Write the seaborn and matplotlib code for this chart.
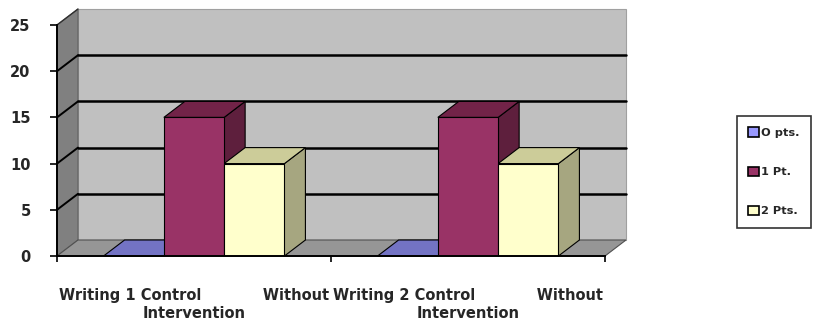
import matplotlib
matplotlib.use("Agg")
import matplotlib.pyplot as plt
import seaborn as sns
import pandas as pd
import numpy as np
from matplotlib.patches import Polygon, Patch

categories = ["Writing 1 Control Without Intervention", "Writing 2 Control Without Intervention"]
tick_labels = ["Writing 1 Control            Without\nIntervention",
               "Writing 2 Control            Without\nIntervention"]
series = ["O pts.", "1 Pt.", "2 Pts."]
vals_0 = [0, 0]
vals_1 = [15, 15]
vals_2 = [10, 10]

front_cols = ["#9999ff", "#993366", "#ffffcc"]
top_cols = ["#7373c4", "#722348", "#cccc99"]
side_cols = ["#5c5ca0", "#5e1f3d", "#a6a680"]

rows = []
for s, vals in zip(series, [vals_0, vals_1, vals_2]):
    for c, v in zip(categories, vals):
        rows.append({"category": c, "series": s, "value": v})
df = pd.DataFrame(rows)

sns.set_theme(style="white")
plt.rcParams['font.family'] = ['DejaVu Sans']

fig = plt.figure(figsize=(8.21, 3.29), dpi=100)
ax = fig.add_axes([57/821, 1-256/329, (605-57)/821, (256-25)/329])

sns.barplot(data=df, x="category", y="value", hue="series", palette=front_cols,
            width=0.66, saturation=1, edgecolor="black", linewidth=0.8,
            legend=False, ax=ax, zorder=5)

ax.set_xlim(-0.5, 1.5)
ax.set_ylim(0, 25)

# depth in data units
ddx = 21/274.0
ddy = 16/9.24

# walls
x0, x1 = -0.5, 1.5
back = Polygon([[x0+ddx, ddy], [x1+ddx, ddy], [x1+ddx, 25+ddy], [x0+ddx, 25+ddy]],
               closed=True, facecolor="#c0c0c0", edgecolor="#a0a0a0", lw=0.8, clip_on=False, zorder=0)
left = Polygon([[x0, 0], [x0+ddx, ddy], [x0+ddx, 25+ddy], [x0, 25]],
               closed=True, facecolor="#808080", edgecolor="#606060", lw=0.8, clip_on=False, zorder=1)
floor = Polygon([[x0, 0], [x1, 0], [x1+ddx, ddy], [x0+ddx, ddy]],
                closed=True, facecolor="#969696", edgecolor="#505050", lw=0.8, clip_on=False, zorder=1)
for p in (back, left, floor):
    ax.add_patch(p)

for v in [5, 10, 15, 20]:
    ax.plot([x0+ddx, x1+ddx], [v+ddy, v+ddy], color="black", lw=1.8, clip_on=False, zorder=2)
    ax.plot([x0, x0+ddx], [v, v+ddy], color="black", lw=1.4, clip_on=False, zorder=2)
ax.plot([x0, x0+ddx], [25, 25+ddy], color="#303030", lw=1.0, clip_on=False, zorder=2)

# 3D faces of bars
n_cat = len(categories)
bars = [p for p in ax.patches if not isinstance(p, Polygon)]
for i, bar in enumerate(bars):
    si = i // n_cat
    if si >= len(series):
        continue
    bx, bw, bh = bar.get_x(), bar.get_width(), bar.get_height()
    top = Polygon([[bx, bh], [bx+bw, bh], [bx+bw+ddx, bh+ddy], [bx+ddx, bh+ddy]],
                  closed=True, facecolor=top_cols[si], edgecolor="black", lw=0.8,
                  clip_on=False, zorder=4)
    side = Polygon([[bx+bw, 0], [bx+bw+ddx, ddy], [bx+bw+ddx, bh+ddy], [bx+bw, bh]],
                   closed=True, facecolor=side_cols[si], edgecolor="black", lw=0.8,
                   clip_on=False, zorder=4)
    ax.add_patch(side)
    ax.add_patch(top)

for sp in ["top", "right"]:
    ax.spines[sp].set_visible(False)
for sp in ["left", "bottom"]:
    ax.spines[sp].set_color("black")
    ax.spines[sp].set_linewidth(1.4)
    ax.spines[sp].set_zorder(6)

ax.set_yticks([0, 5, 10, 15, 20, 25])
ax.set_yticklabels(["0", "5", "10", "15", "20", "25"], fontweight="bold", fontsize=10.5)
ax.tick_params(axis="y", left=True, length=5, width=1.2, pad=14, color="black")

ax.set_xticks([0, 1])
ax.set_xticklabels(tick_labels, fontweight="bold", fontsize=10.5, ha="center",
                   multialignment="center", linespacing=1.25)
ax.tick_params(axis="x", bottom=False, pad=17)
ax.set_xticks([-0.5, 0.5, 1.5], minor=True)
ax.tick_params(axis="x", which="minor", bottom=True, length=4, width=1.2, color="black")
ax.set_xlabel("")
ax.set_ylabel("")
ax.grid(False)
ax.set_facecolor("none")

handles = [Patch(facecolor=c, edgecolor="black", lw=1.2) for c in front_cols]
leg = fig.legend(handles, series, loc="upper left",
                 bbox_to_anchor=(737/821, 1-116/329), frameon=True, fancybox=False,
                 prop={"weight": "bold", "size": 8.2}, handlelength=0.9, handleheight=0.9,
                 handletextpad=0.2, labelspacing=2.5, borderpad=1.0, borderaxespad=0)
leg.get_frame().set_edgecolor("black")
leg.get_frame().set_linewidth(1.2)

fig.savefig("out.png", dpi=100)
